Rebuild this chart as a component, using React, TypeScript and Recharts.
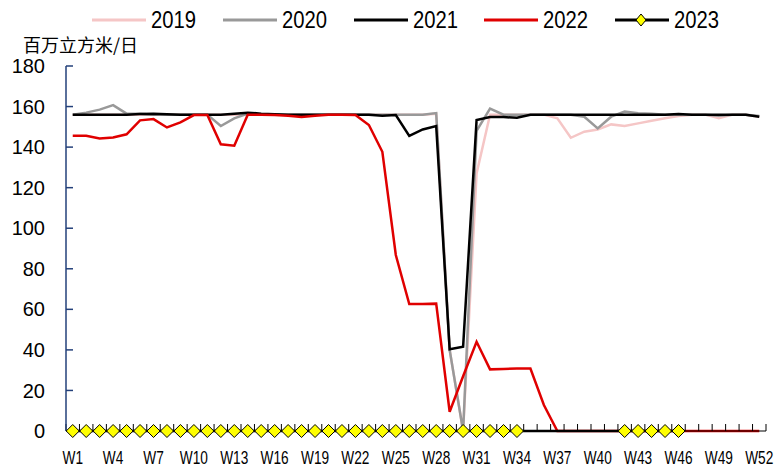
import React from "react";
import { LineChart, Line, XAxis, YAxis, Legend } from "recharts";

// weekly values, million m3 per day
const weeks = [
  "W1", "W2", "W3", "W4", "W5", "W6", "W7", "W8", "W9", "W10", "W11", "W12", "W13",
  "W14", "W15", "W16", "W17", "W18", "W19", "W20", "W21", "W22", "W23", "W24", "W25", "W26",
  "W27", "W28", "W29", "W30", "W31", "W32", "W33", "W34", "W35", "W36", "W37", "W38", "W39",
  "W40", "W41", "W42", "W43", "W44", "W45", "W46", "W47", "W48", "W49", "W50", "W51", "W52",
];

const s2019 = [
  156, 156, 156, 156, 156, 156, 156, 156, 156, 156, 156, 156, 156,
  156, 156, 156, 156, 156, 156, 156, 156, 156, 156, 156, 156, 156,
  156, 156.5, 40, 0, 127, 156, 156, 156, 156, 156, 154.2, 144.6, 147.6,
  148.7, 151.2, 150.4, 151.7, 153, 154.2, 155.3, 156, 156, 154.2, 156, 156, 155,
];

const s2020 = [
  156, 157, 158.5, 160.7, 156.5, 156.5, 156, 156, 156, 156, 156, 150.4, 154.2,
  156.6, 156, 156, 156, 156, 156, 156, 156, 156, 156, 156, 156, 156,
  156, 156.8, 40, 0, 148, 159, 156, 156, 156, 156, 156, 156, 155,
  149.2, 155, 157.5, 156.7, 156.5, 156, 156, 156, 156, 155.5, 156, 156, 155.3,
];

const s2021 = [
  156, 156, 156, 156, 156, 156.3, 156.5, 156.2, 156, 156, 156, 156, 156.5,
  157, 156.5, 156.2, 156, 156, 156, 156, 156, 156, 156, 155.5, 155.8, 145.5,
  148.7, 150.4, 40.3, 41.6, 153.4, 154.8, 154.8, 154.5, 156, 156, 156, 156, 156,
  156, 156, 156, 156, 156, 156, 156.3, 156, 156, 156, 156, 156, 155,
];

const s2022 = [
  145.6, 145.6, 144.2, 144.7, 146.3, 153.2, 153.8, 149.7, 152.2, 155.8, 155.8, 141.4, 140.7,
  156, 156, 155.8, 155.5, 154.8, 155.5, 156, 156, 155.8, 150.9, 137.7, 86.8, 62.6,
  62.6, 62.8, 9.5, 27, 44, 30.4, 30.6, 30.8, 30.8, 12.8, 0, 0, 0,
  0, 0, 0, 0, 0, 0, 0, 0, 0, 0, 0, 0, 0,
];

const s2023 = [
  0, 0, 0, 0, 0, 0, 0, 0, 0, 0, 0, 0, 0,
  0, 0, 0, 0, 0, 0, 0, 0, 0, 0, 0, 0, 0,
  0, 0, 0, 0, 0, 0, 0, 0, 0, 0, 0, 0, 0,
  0, 0, 0, 0, 0, 0, 0, null, null, null, null, null, null,
];

// weeks of 2023 drawn without a marker
const unmarked2023 = ["W35", "W36", "W37", "W38", "W39", "W40", "W41"];

// weeks that carry a label on the x axis
const labelWeeks = [1, 4, 7, 10, 13, 16, 19, 22, 25, 28, 31, 34, 37, 40, 43, 46, 49, 52];
const yTicks = [0, 20, 40, 60, 80, 100, 120, 140, 160, 180];

const series = [
  { key: "y2019", name: "2019", color: "#F5C6C6" },
  { key: "y2020", name: "2020", color: "#999999" },
  { key: "y2021", name: "2021", color: "#000000" },
  { key: "y2022", name: "2022", color: "#E00000" },
  { key: "y2023", name: "2023", color: "#000000" },
];

const data = weeks.map((week, i) => ({
  week,
  n: i + 1,
  y2019: s2019[i],
  y2020: s2020[i],
  y2021: s2021[i],
  y2022: s2022[i],
  y2023: s2023[i],
}));

// boundaries between the week categories
const boundaryTicks = weeks.map((_, i) => i + 0.5).concat([weeks.length + 0.5]);

const SANS = "'Liberation Sans', Arial, sans-serif";
const AXIS_BLUE = "#23407A";

const Diamond = ({ cx, cy, rx, ry }: { cx: number; cy: number; rx: number; ry: number }) => (
  <path
    d={`M${cx},${cy - ry}L${cx + rx},${cy}L${cx},${cy + ry}L${cx - rx},${cy}Z`}
    fill="#FFFF00"
    stroke="#000"
    strokeWidth={1}
  />
);

const renderDot2023 = (props: any) => {
  const { cx, cy, payload, index } = props;
  if (cy == null || unmarked2023.includes(payload.week)) {
    return <g key={`d-${index}`} />;
  }
  return (
    <g key={`d-${index}`}>
      <Diamond cx={cx} cy={cy} rx={6.5} ry={6.5} />
    </g>
  );
};

// narrow, tall labels like the original
const WeekTick = (props: any) => {
  const { x, y, payload } = props;
  return (
    <g transform={`translate(${x},${y}) scale(0.72,1)`}>
      <text x={0} y={0} dy="0.71em" textAnchor="middle" fontSize={19} fontFamily={SANS} fill="#000">
        {weeks[payload.value - 1]}
      </text>
    </g>
  );
};

const LegendBox = () => (
  <div style={{ display: "flex", fontFamily: SANS, fontSize: 23, color: "#000" }}>
    {series.map((s) => (
      <div key={s.key} style={{ width: 130.75, display: "flex", alignItems: "center", height: 30 }}>
        <svg width={54} height={16} style={{ marginRight: 5 }}>
          <line x1={0} y1={8} x2={54} y2={8} stroke={s.color} strokeWidth={3} />
          {s.name === "2023" && (
            <path d="M26,2L31,8L26,14L21,8Z" fill="#FFFF00" stroke="#000" strokeWidth={1} />
          )}
        </svg>
        <span
          style={{
            lineHeight: "30px",
            display: "inline-block",
            transform: "scaleX(0.88)",
            transformOrigin: "left center",
          }}
        >
          {s.name}
        </span>
      </div>
    ))}
  </div>
);

export default function App() {
  return (
    <div style={{ position: "absolute", left: 0, top: 0, width: 777, height: 468, background: "#fff" }}>
      <div
        style={{
          position: "absolute",
          left: 23,
          top: 35,
          fontSize: 18,
          lineHeight: "18px",
          fontFamily: "'Noto Sans CJK SC', sans-serif",
          color: "#000",
          zIndex: 2,
        }}
      >
        百万立方米/日
      </div>
      <LineChart
        width={777}
        height={468}
        data={data}
        margin={{ top: 66, right: 11, bottom: 6, left: 10 }}
      >
        <XAxis
          xAxisId="z_lab"
          type="number"
          dataKey="n"
          domain={[0.5, 52.5]}
          allowDataOverflow
          ticks={labelWeeks}
          interval={0}
          tickLine={false}
          axisLine={false}
          tickSize={0}
          tickMargin={18}
          height={30}
          tick={<WeekTick />}
        />
        <XAxis
          xAxisId="a_tk"
          type="number"
          dataKey="n"
          domain={[0.5, 52.5]}
          allowDataOverflow
          ticks={boundaryTicks}
          interval={0}
          tickFormatter={() => ""}
          tickSize={-7}
          height={1}
          axisLine={{ stroke: "#000", strokeWidth: 1 }}
          tickLine={{ stroke: "#000", strokeWidth: 1 }}
        />
        <YAxis
          domain={[0, 180]}
          ticks={yTicks}
          interval={0}
          width={56}
          tickSize={-7}
          tickMargin={28}
          axisLine={{ stroke: AXIS_BLUE, strokeWidth: 1.5 }}
          tickLine={{ stroke: AXIS_BLUE, strokeWidth: 1.5 }}
          tick={{ fill: "#000", fontSize: 20, fontFamily: SANS }}
        />
        <Legend
          verticalAlign="middle"
          align="center"
          layout="horizontal"
          wrapperStyle={{ top: 5, left: 92, width: 660, height: 30 }}
          content={<LegendBox />}
        />
        {series.map((s) => (
          <Line
            key={s.key}
            xAxisId="a_tk"
            type="linear"
            dataKey={s.key}
            name={s.name}
            stroke={s.color}
            strokeWidth={2.5}
            dot={s.key === "y2023" ? renderDot2023 : false}
            activeDot={false}
            isAnimationActive={false}
          />
        ))}
      </LineChart>
    </div>
  );
}
